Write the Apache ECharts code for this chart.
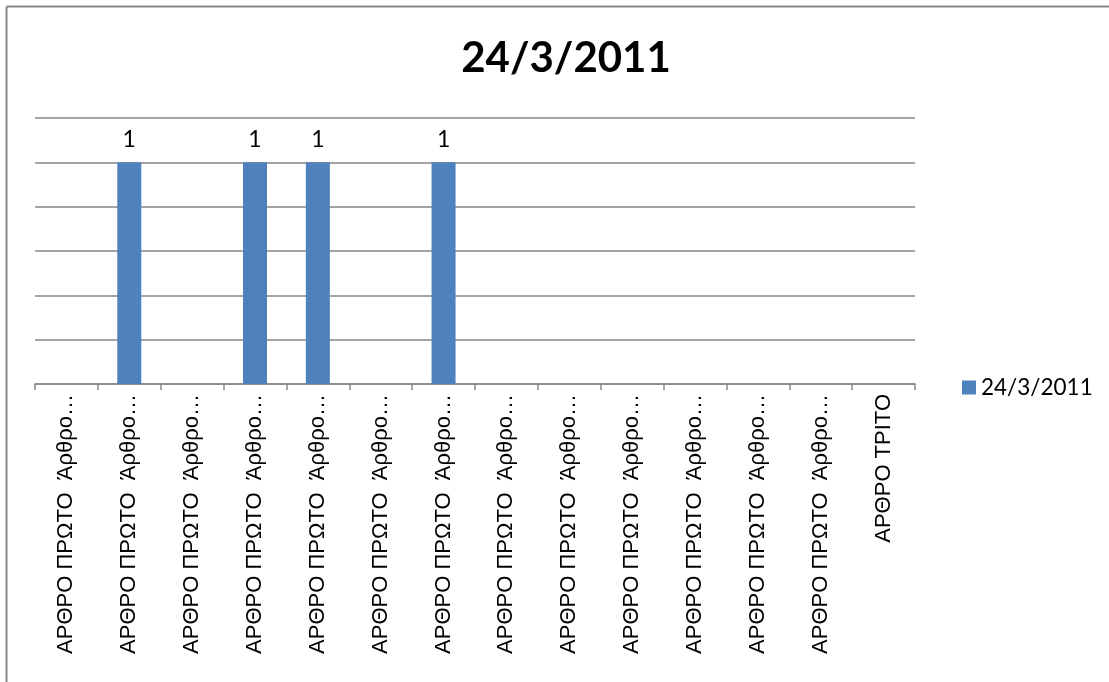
<!DOCTYPE html>
<html>
<head>
<meta charset="utf-8">
<script src="https://cdn.jsdelivr.net/npm/echarts@6/dist/echarts.min.js"></script>
<style>
html,body{margin:0;padding:0;background:#fff;}
#chart{width:1109px;height:682px;}
</style>
</head>
<body>
<div id="chart"></div>
<script>
const titleText = '24/3/2011';
const seriesName = '24/3/2011';
const categories = [
  'ΑΡΘΡΟ ΠΡΩΤΟ  Άρθρο…','ΑΡΘΡΟ ΠΡΩΤΟ  Άρθρο…','ΑΡΘΡΟ ΠΡΩΤΟ  Άρθρο…','ΑΡΘΡΟ ΠΡΩΤΟ  Άρθρο…',
  'ΑΡΘΡΟ ΠΡΩΤΟ  Άρθρο…','ΑΡΘΡΟ ΠΡΩΤΟ  Άρθρο…','ΑΡΘΡΟ ΠΡΩΤΟ  Άρθρο…','ΑΡΘΡΟ ΠΡΩΤΟ  Άρθρο…',
  'ΑΡΘΡΟ ΠΡΩΤΟ  Άρθρο…','ΑΡΘΡΟ ΠΡΩΤΟ  Άρθρο…','ΑΡΘΡΟ ΠΡΩΤΟ  Άρθρο…','ΑΡΘΡΟ ΠΡΩΤΟ  Άρθρο…',
  'ΑΡΘΡΟ ΠΡΩΤΟ  Άρθρο…','ΑΡΘΡΟ ΤΡΙΤΟ'
];
const values = [0,1,0,1,1,0,1,0,0,0,0,0,0,0];

const chart = echarts.init(document.getElementById('chart'), null, {renderer:'canvas'});
chart.setOption({
  animation:false,
  backgroundColor:'#fff',
  title:{
    text:titleText, left:561, top:32, textAlign:'center',
    textStyle:{fontFamily:'Lato, sans-serif', fontWeight:'bold', fontSize:42, color:'#000'}
  },
  legend:{
    data:[seriesName], left:957, top:371, itemWidth:14, itemHeight:14, itemGap:5,
    icon:'rect',
    textStyle:{fontFamily:'Lato, sans-serif', fontSize:22.5, color:'#000'}
  },
  grid:{left:35, right:194, top:118, bottom:298, containLabel:false},
  xAxis:{
    type:'category', data:categories, boundaryGap:true,
    axisLine:{lineStyle:{color:'#868686', width:1.5}},
    axisTick:{show:true, length:6, inside:false, lineStyle:{color:'#868686', width:1.5}},
    axisLabel:{rotate:90, interval:0, margin:10, fontFamily:'"Liberation Sans", Arial, sans-serif', fontSize:22, color:'#000'},
    splitLine:{show:false}
  },
  yAxis:{
    type:'value', min:0, max:1.2, interval:0.2,
    axisLine:{show:false}, axisTick:{show:false}, axisLabel:{show:false},
    splitLine:{lineStyle:{color:'#868686', width:1.5}}
  },
  series:[{
    name:seriesName, type:'bar', data:values, barWidth:24,
    itemStyle:{color:'#4F81BD'},
    label:{show:true, position:'top', distance:11, fontFamily:'Lato, sans-serif', fontSize:23, color:'#000',
      formatter:p => p.value ? String(p.value) : ''}
  }],
  graphic:[
    {type:'line', shape:{x1:6.5, y1:6.5, x2:1109, y2:6.5}, style:{stroke:'#868686', lineWidth:2}},
    {type:'line', shape:{x1:6.5, y1:6.5, x2:6.5, y2:682}, style:{stroke:'#868686', lineWidth:2}}
  ]
});
</script>
</body>
</html>
